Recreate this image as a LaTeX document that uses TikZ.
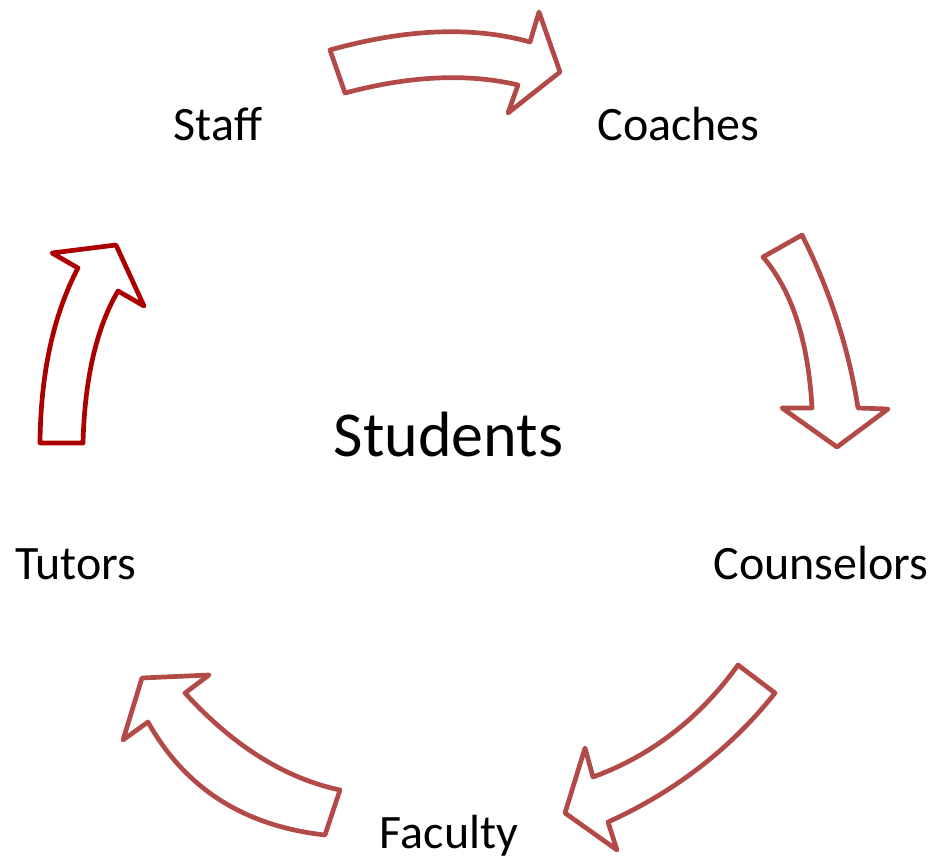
\documentclass[tikz,border=0pt]{standalone}
\usepackage{fontspec}
\setmainfont{Carlito}
\definecolor{arrowred}{RGB}{178,74,72}
\definecolor{darkred}{RGB}{172,0,0}
\begin{document}
\begin{tikzpicture}[x=1pt,y=-1pt,
  blockarrow/.style={draw=arrowred,line width=4.7pt,line join=round,fill=white},
  label/.style={font=\fontsize{48}{56}\selectfont,anchor=base,inner sep=0pt},
  center/.style={font=\fontsize{64}{75}\selectfont,anchor=base,inner sep=0pt}]
\useasboundingbox (0,0) rectangle (932,856);
% top arrow (Staff -> Coaches)
\draw[blockarrow] (330,50) .. controls (406,28.7) and (472.7,26) .. (530,42)
  -- (539,12) -- (560,72) -- (508,113) -- (518,85)
  .. controls (467.7,73) and (410,75.7) .. (345,93) -- cycle;
% right arrow (Coaches -> Counselors)
\draw[blockarrow] (763,257) -- (802,235) .. controls (830,290.7) and (848.7,348.3) .. (858,408)
  -- (888,409) -- (837,447) -- (782,408) -- (812,408)
  .. controls (808.3,341) and (792,290.7) .. (763,257) -- cycle;
% bottom-right arrow (Counselors -> Faculty)
\draw[blockarrow] (738,665) -- (775,693) .. controls (730.7,748.7) and (675,791.7) .. (608,822)
  -- (617,850) -- (565,813) -- (585,748) -- (593,777)
  .. controls (651.3,755.7) and (699.7,718.3) .. (738,665) -- cycle;
% bottom-left arrow (Faculty -> Tutors)
\draw[blockarrow] (325,835) -- (340,790) .. controls (285,778.3) and (233.3,746) .. (185,693)
  -- (209,675) -- (142,678) -- (123,740) -- (148,722)
  .. controls (185,788.3) and (244,826) .. (325,835) -- cycle;
% left arrow (Tutors -> Staff)
\draw[blockarrow,draw=darkred] (83,443) -- (40,443) .. controls (40.7,373.3) and (53.3,315) .. (78,268)
  -- (52,253) -- (116,245) -- (144,306) -- (118,291)
  .. controls (96.3,328.3) and (84.7,379) .. (83,443) -- cycle;
% labels
\node[label] (staff) at (218,141) {Staff};
\node[label] (coaches) at (678.5,141) {Coaches};
\node[label] (counselors) at (821,579) {Counselors};
\node[label] (tutors) at (76,579) {Tutors};
\node[label] (faculty) at (449,848) {Faculty};
\node[center] (students) at (448.5,456) {Students};
\end{tikzpicture}
\end{document}
